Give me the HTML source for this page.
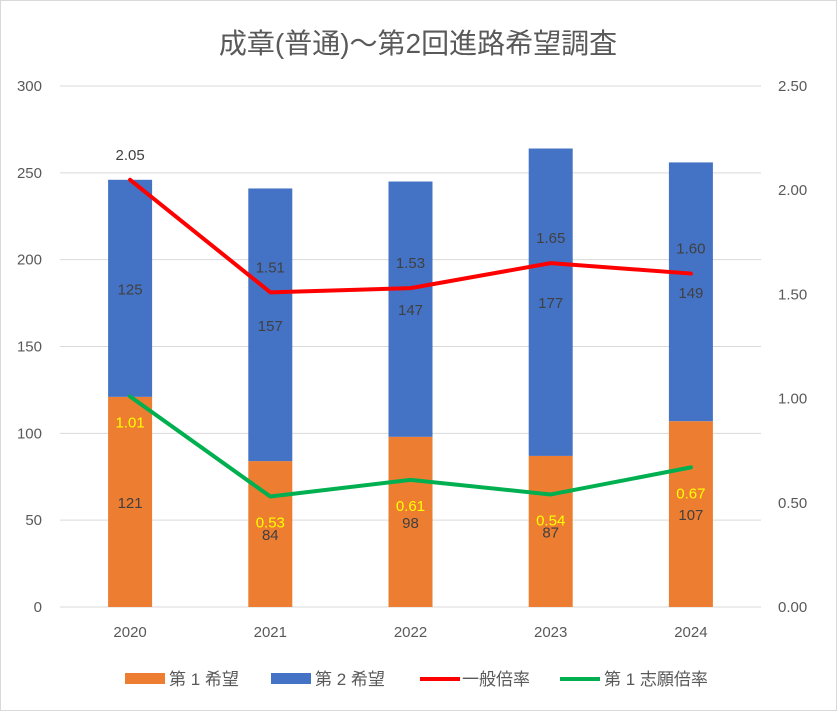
<!DOCTYPE html>
<html><head><meta charset="utf-8"><style>
html,body{margin:0;padding:0;background:#fff}
svg{display:block;font-family:"Liberation Sans","Noto Sans CJK JP",sans-serif}
</style></head><body>
<svg id="chart" width="837" height="711" viewBox="0 0 837 711">
<rect x="0.5" y="0.5" width="836" height="710" fill="#fff" stroke="#d9d9d9"/>
<text x="418" y="53" text-anchor="middle" font-size="28" fill="#595959">成章(普通)～第2回進路希望調査</text>
<g id="grid"></g><g id="bars"></g><g id="lines"></g><g id="labels"></g><g id="axes"></g>
<g id="legend">
<rect x="125" y="673" width="40" height="11" fill="#ed7d31"/>
<text x="169" y="685" font-size="17" fill="#595959">第 1 希望</text>
<rect x="271" y="673" width="40" height="11" fill="#4472c4"/>
<text x="315" y="685" font-size="17" fill="#595959">第 2 希望</text>
<line x1="420" y1="679" x2="460" y2="679" stroke="#ff0000" stroke-width="4"/>
<text x="462" y="685" font-size="17" fill="#595959">一般倍率</text>
<line x1="560" y1="679" x2="600" y2="679" stroke="#00b050" stroke-width="4"/>
<text x="604" y="685" font-size="17" fill="#595959">第 1 志願倍率</text>
</g>
</svg>
<script>
const categories=["2020","2021","2022","2023","2024"];
const firstChoice=[121,84,98,87,107];
const secondChoice=[125,157,147,177,149];
const generalRate=[2.05,1.51,1.53,1.65,1.60];
const firstRate=[1.01,0.53,0.61,0.54,0.67];
const leftTicks=[0,50,100,150,200,250,300];
const rightTicks=["0.00","0.50","1.00","1.50","2.00","2.50"];
const NS="http://www.w3.org/2000/svg";
const X0=60,X1=761,Y0=607,Y1=86;
const yL=v=>Y0-(v/300)*(Y0-Y1);
const yR=v=>Y0-(v/2.5)*(Y0-Y1);
const xC=i=>X0+(X1-X0)/categories.length*(i+0.5);
const bw=44;
function mk(tag,attrs,parent,text){const e=document.createElementNS(NS,tag);for(const k in attrs)e.setAttribute(k,attrs[k]);if(text!==undefined)e.textContent=text;document.getElementById(parent).appendChild(e);return e;}
leftTicks.forEach(t=>{
 const g=mk('line',{x1:X0,x2:X1,y1:yL(t),y2:yL(t),stroke:'#d9d9d9','stroke-width':1},'grid');
 
 
 const l=mk('text',{x:42,y:yL(t)+5,'text-anchor':'end','font-size':15,fill:'#595959'},'axes',String(t));
 
 
});
rightTicks.forEach(t=>{
 const l=mk('text',{x:778,y:yR(parseFloat(t))+5,'font-size':15,fill:'#595959'},'axes',t);
 
 
});
categories.forEach((c,i)=>{
 const l=mk('text',{x:xC(i),y:637,'text-anchor':'middle','font-size':15,fill:'#595959'},'axes',c);
 
 
 const a=firstChoice[i],b=secondChoice[i];
 const r1=mk('rect',{x:xC(i)-bw/2,y:yL(a),width:bw,height:yL(0)-yL(a),fill:'#ed7d31'},'bars');
 
 
 const r2=mk('rect',{x:xC(i)-bw/2,y:yL(a+b),width:bw,height:yL(a)-yL(a+b),fill:'#4472c4'},'bars');
 
 
 const t1=mk('text',{x:xC(i),y:(yL(0)+yL(a))/2+6,'text-anchor':'middle','font-size':15,fill:'#404040'},'labels',String(a));
 
 
 const t2=mk('text',{x:xC(i),y:(yL(a)+yL(a+b))/2+6,'text-anchor':'middle','font-size':15,fill:'#404040'},'labels',String(b));
 
 
 const t3=mk('text',{x:xC(i),y:yR(generalRate[i])-20,'text-anchor':'middle','font-size':15,fill:'#404040'},'labels',generalRate[i].toFixed(2));
 
 
 const t4=mk('text',{x:xC(i),y:yR(firstRate[i])+31,'text-anchor':'middle','font-size':15,fill:'#ffff00'},'labels',firstRate[i].toFixed(2));
 
 
});
const p1=mk('polyline',{points:generalRate.map((v,i)=>xC(i)+','+yR(v)).join(' '),fill:'none',stroke:'#ff0000','stroke-width':4,'stroke-linejoin':'round','stroke-linecap':'round'},'lines');


const p2=mk('polyline',{points:firstRate.map((v,i)=>xC(i)+','+yR(v)).join(' '),fill:'none',stroke:'#00b050','stroke-width':4,'stroke-linejoin':'round','stroke-linecap':'round'},'lines');


</script>
</body></html>
